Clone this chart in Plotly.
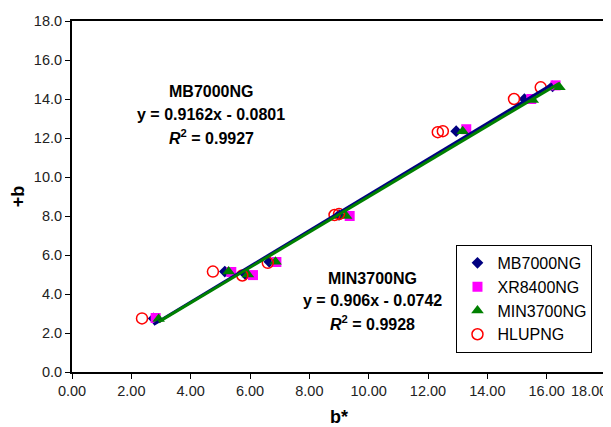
import plotly.graph_objects as go

# b* (x) and +b (y) readings per instrument
MB_X = [2.75, 5.15, 5.85, 6.65, 9.0, 12.95, 15.25, 16.2]
MB_Y = [2.75, 5.15, 5.0, 5.65, 8.05, 12.35, 14.0, 14.65]
XR_X = [2.82, 5.37, 6.1, 6.89, 9.36, 13.29, 15.48, 16.3]
XR_Y = [2.77, 5.13, 4.97, 5.64, 8.0, 12.45, 14.0, 14.7]
MIN_X = [2.92, 5.28, 5.93, 6.86, 9.24, 13.17, 15.53, 16.43]
MIN_Y = [2.72, 5.15, 5.0, 5.65, 8.0, 12.35, 13.95, 14.6]
HL_X = [2.36, 4.75, 5.74, 6.6, 8.85, 9.0, 12.33, 12.5, 14.9, 15.8]
HL_Y = [2.75, 5.15, 4.95, 5.6, 8.05, 8.1, 12.3, 12.35, 14.0, 14.6]

# trendline fits shown on the chart
MB_FIT = (0.9162, -0.0801, 0.9927)
MIN_FIT = (0.906, -0.0742, 0.9928)

# axis ticks
X_TICKS = [0, 2, 4, 6, 8, 10, 12, 14, 16, 18]
X_LABELS = ["0.00", "2.00", "4.00", "6.00", "8.00", "10.00", "12.00", "14.00", "16.00", "18.00"]

FONT = "Arial, Liberation Sans, sans-serif"
TICK_FONT = dict(family=FONT, size=14.5, color="#222")


def fit_line(xs, fit):
    x0, x1 = min(xs), max(xs)
    return [x0, x1], [fit[0] * x0 + fit[1], fit[0] * x1 + fit[1]]


fig = go.Figure()

series = [
    ("MB7000NG", MB_X, MB_Y, dict(symbol="diamond", size=9, color="#000080")),
    ("XR8400NG", XR_X, XR_Y, dict(symbol="square", size=10, color="#FF00FF")),
    ("MIN3700NG", MIN_X, MIN_Y, dict(symbol="triangle-up", size=11, color="#008000")),
    ("HLUPNG", HL_X, HL_Y, dict(symbol="circle-open", size=11, color="#FF0000", line=dict(width=1.5))),
]
for name, xs, ys, mk in series:
    fig.add_trace(go.Scatter(x=xs, y=ys, mode="markers", name=name, marker=mk))

lx, ly = fit_line(MB_X, MB_FIT)
fig.add_trace(go.Scatter(x=lx, y=ly, mode="lines", line=dict(color="#000080", width=3),
                         showlegend=False, hoverinfo="skip"))
lx, ly = fit_line(MIN_X, MIN_FIT)
fig.add_trace(go.Scatter(x=lx, y=ly, mode="lines", line=dict(color="#008000", width=3),
                         showlegend=False, hoverinfo="skip"))


def eq_text(fit):
    sign = "-" if fit[1] < 0 else "+"
    return f"y = {fit[0]:g}x {sign} {abs(fit[1]):g}"


annots = []
for label, fit, cx, ys in [
    ("MB7000NG", MB_FIT, 4.70, [14.36, 13.23, 12.05]),
    ("MIN3700NG", MIN_FIT, 10.13, [4.82, 3.69, 2.51]),
]:
    lines = [label, eq_text(fit), f"<i>R</i><sup>2</sup> = {fit[2]}"]
    for txt, yy in zip(lines, ys):
        annots.append(dict(x=cx, y=yy, xref="x", yref="y", text=f"<b>{txt}</b>",
                           showarrow=False, font=dict(family=FONT, size=16, color="black")))

# the last x label sits flush with the right edge (as Excel does) instead of centred
annots.append(dict(x=X_TICKS[-1], y=0, xref="x", yref="y", text=X_LABELS[-1],
                   xanchor="right", yanchor="middle", xshift=3, yshift=-19,
                   showarrow=False, font=TICK_FONT))
tick_text = X_LABELS[:-1] + [""]

axis_common = dict(showline=True, linecolor="black", linewidth=2, mirror=True,
                   ticks="outside", ticklen=5, tickcolor="black", showgrid=False,
                   zeroline=False, automargin=False, tickfont=TICK_FONT)

# page body keeps an 8px margin, so the figure is 8px smaller than the window
fig.update_layout(
    width=603, height=419,
    paper_bgcolor="white", plot_bgcolor="white",
    margin=dict(l=64, r=5, t=13, b=55),
    annotations=annots,
    xaxis=dict(range=[0, 18], tickvals=X_TICKS, ticktext=tick_text,
               title=dict(text="<b>b*</b>", font=dict(family=FONT, size=18, color="black"), standoff=14),
               **axis_common),
    yaxis=dict(range=[0, 18], dtick=2, tickformat=".1f",
               title=dict(text="<b>+b</b>", font=dict(family=FONT, size=18, color="black"), standoff=12),
               **axis_common),
    legend=dict(x=0.72, y=0.362, xanchor="left", yanchor="top",
                bordercolor="black", borderwidth=1, bgcolor="white",
                font=dict(family=FONT, size=16, color="black"),
                itemwidth=30, tracegroupgap=0),
    showlegend=True,
)

fig.write_html("out.html")
